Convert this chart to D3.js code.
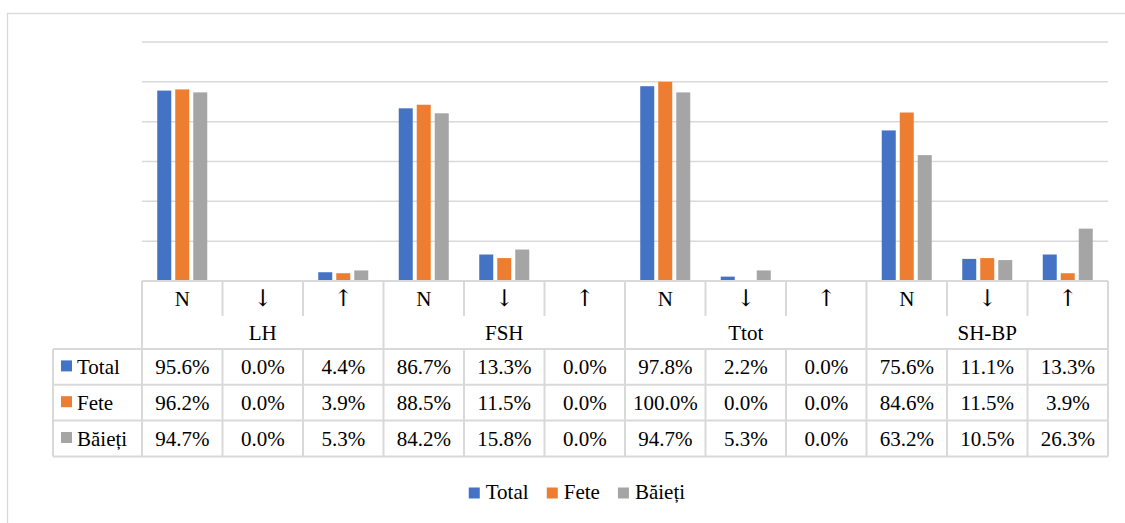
<!DOCTYPE html>
<html>
<head>
<meta charset="utf-8">
<script src="https://cdn.jsdelivr.net/npm/d3@7/dist/d3.min.js"></script>
<style>
  html, body { margin: 0; padding: 0; background: #fff; }
  svg { display: block; }
</style>
</head>
<body>
<svg id="chart" width="1125" height="523"></svg>
<script>
// Hormone groups and the three result levels under each
const groups = ["LH", "FSH", "Ttot", "SH-BP"];
const levels = ["N", "↓", "↑"];
const seriesNames = ["Total", "Fete", "Băieți"];
const seriesColors = ["#4472C4", "#ED7D31", "#A5A5A5"];

// Percentages per column (LH N, LH ↓, LH ↑, FSH N, ... SH-BP ↑)
const totalValues = [95.6, 0.0, 4.4, 86.7, 13.3, 0.0, 97.8, 2.2, 0.0, 75.6, 11.1, 13.3];
const feteValues  = [96.2, 0.0, 3.9, 88.5, 11.5, 0.0, 100.0, 0.0, 0.0, 84.6, 11.5, 3.9];
const baietiValues = [94.7, 0.0, 5.3, 84.2, 15.8, 0.0, 94.7, 5.3, 0.0, 63.2, 10.5, 26.3];
const yTicks = [0, 20, 40, 60, 80, 100, 120];

const seriesValues = [totalValues, feteValues, baietiValues];
const columns = [];
groups.forEach(g => levels.forEach(l => columns.push(g + "|" + l)));

const svg = d3.select("#chart");
const font = "Liberation Serif, Tinos, Times New Roman, DejaVu Serif, serif";
const arrowFont = "DejaVu Serif, DejaVu Sans, serif";
const gridColor = "#D9D9D9";

// outer chart frame
svg.append("rect")
  .attr("x", 7.5).attr("y", 13.5)
  .attr("width", 1130).attr("height", 530)
  .attr("fill", "none").attr("stroke", gridColor).attr("stroke-width", 1.3);

const plotLeft = 142, plotRight = 1108;
const plotTop = 42, plotBottom = 281;

const x = d3.scaleBand().domain(columns).range([plotLeft, plotRight]).padding(0);
const y = d3.scaleLinear().domain([0, 120]).range([plotBottom, plotTop]);
const cw = x.bandwidth();
const xs = d3.scaleBand().domain(seriesNames)
  .range([cw / 2 - 25, cw / 2 + 25]).paddingInner(4 / 18);

// horizontal gridlines
svg.append("g").selectAll("line").data(yTicks.slice(1)).join("line")
  .attr("x1", plotLeft).attr("x2", plotRight)
  .attr("y1", d => y(d)).attr("y2", d => y(d))
  .attr("stroke", gridColor).attr("stroke-width", 1.5);

// bars
const barData = [];
seriesNames.forEach((s, si) => {
  seriesValues[si].forEach((v, ci) => barData.push({ s, si, col: columns[ci], v }));
});
svg.append("g").selectAll("rect").data(barData).join("rect")
  .attr("x", d => x(d.col) + xs(d.s))
  .attr("width", xs.bandwidth())
  .attr("y", d => y(d.v))
  .attr("height", d => y(0) - y(d.v))
  .attr("fill", d => seriesColors[d.si]);

// data table below the plot
const tbl = svg.append("g");
const lineW = 2;
const catTop = plotBottom, catDivBottom = 316, groupBottom = 349;
const rowH = 35.8;
const legendLeft = 53;
const tableBottom = groupBottom + rowH * seriesNames.length;
const fs = 21;

function hline(x1, x2, yy) {
  tbl.append("line").attr("x1", x1).attr("x2", x2).attr("y1", yy).attr("y2", yy)
    .attr("stroke", gridColor).attr("stroke-width", lineW);
}
function vline(xx, y1, y2) {
  tbl.append("line").attr("x1", xx).attr("x2", xx).attr("y1", y1).attr("y2", y2)
    .attr("stroke", gridColor).attr("stroke-width", lineW);
}

hline(plotLeft, plotRight, catTop);
hline(legendLeft, plotRight, groupBottom);
seriesNames.forEach((s, i) => hline(legendLeft, plotRight, groupBottom + rowH * (i + 1)));
vline(legendLeft, groupBottom, tableBottom);
columns.forEach((c, i) => {
  const xx = x(c);
  const isGroupEdge = i % levels.length === 0;
  vline(xx, catTop, isGroupEdge ? tableBottom : catDivBottom);
  if (!isGroupEdge) vline(xx, groupBottom, tableBottom);
});
vline(plotRight, catTop, tableBottom);

// level labels (arrows drawn with a font that carries them as plain glyphs)
tbl.selectAll("text.lvl").data(columns).join("text").attr("class", "lvl")
  .attr("x", c => x(c) + cw / 2).attr("y", 305.5)
  .attr("text-anchor", "middle").attr("font-size", c => c.split("|")[1] === "N" ? fs : 23)
  .attr("font-family", c => c.split("|")[1] === "N" ? font : arrowFont)
  .attr("fill", "#000")
  .text(c => c.split("|")[1]);

// group labels
tbl.selectAll("text.grp").data(groups).join("text").attr("class", "grp")
  .attr("x", g => x(g + "|" + levels[1]) + cw / 2).attr("y", 340)
  .attr("text-anchor", "middle").attr("font-size", fs).attr("font-family", font)
  .text(g => g);

// series rows: legend key, name, values
seriesNames.forEach((s, si) => {
  const rowY = groupBottom + rowH * si;
  const base = rowY + rowH / 2 + 7;
  tbl.append("rect").attr("x", 61).attr("y", rowY + rowH / 2 - 6.5)
    .attr("width", 11).attr("height", 11).attr("fill", seriesColors[si]);
  tbl.append("text").attr("x", 77).attr("y", base).attr("font-size", fs)
    .attr("font-family", font).text(s);
  tbl.selectAll("text.v" + si).data(seriesValues[si]).join("text").attr("class", "v" + si)
    .attr("x", (v, ci) => x(columns[ci]) + cw / 2).attr("y", base)
    .attr("text-anchor", "middle").attr("font-size", fs).attr("font-family", font)
    .text(v => v.toFixed(1) + "%");
});

// legend under the table
const legend = svg.append("g");
const items = legend.selectAll("g").data(seriesNames).join("g");
items.append("rect").attr("width", 11).attr("height", 11).attr("y", -11.5)
  .attr("fill", (d, i) => seriesColors[i]);
items.append("text").attr("x", 17).attr("font-size", fs).attr("font-family", font).text(d => d);
const widths = [];
items.each(function () { widths.push(this.getBBox().width); });
const gap = 18;
const totalW = d3.sum(widths) + gap * (widths.length - 1);
let cursor = 577 - totalW / 2;
items.attr("transform", (d, i) => {
  const t = `translate(${cursor},499)`;
  cursor += widths[i] + gap;
  return t;
});
</script>
</body>
</html>
